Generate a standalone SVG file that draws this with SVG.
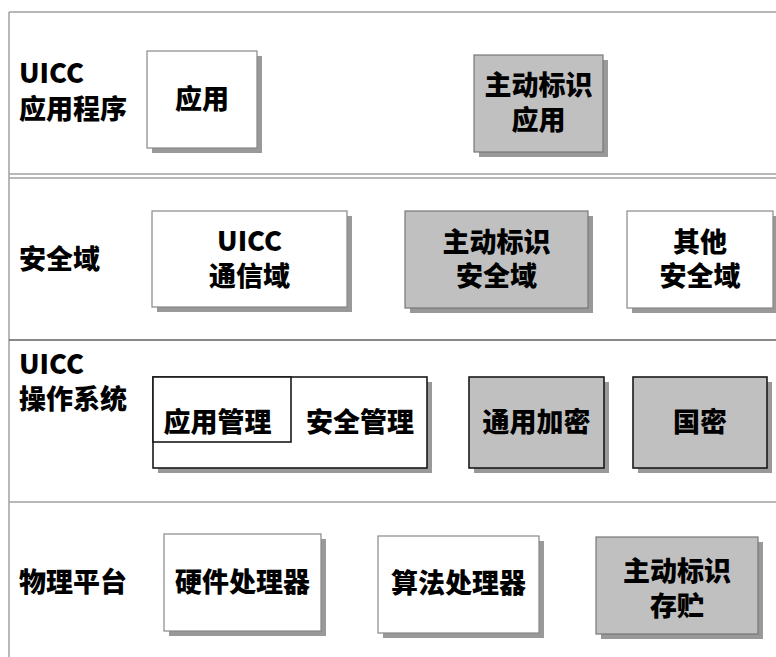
<svg xmlns="http://www.w3.org/2000/svg" width="776" height="657" viewBox="0 0 776 657">
<style>
text{font-family:"Noto Sans CJK SC","Liberation Sans",sans-serif;font-weight:900;font-size:27px;fill:#000;dominant-baseline:central}
.c{text-anchor:middle}
.sh{fill:#999}
.w{fill:#fff;stroke:#888;stroke-width:1.2}
.g{fill:#c0c0c0;stroke:#777;stroke-width:1.2}
.wd{fill:#fff;stroke:#1a1a1a;stroke-width:1.6}
.gd{fill:#c0c0c0;stroke:#1a1a1a;stroke-width:1.6}
.ln{stroke:#a0a0a0;stroke-width:1.5;fill:none}
</style>
<rect width="776" height="657" fill="#fff"/>
<g id="frame">
<line class="ln" x1="9" y1="12" x2="776" y2="12"/>
<line class="ln" x1="9" y1="12" x2="9" y2="657"/>
<line class="ln" x1="9" y1="174" x2="776" y2="174"/>
<line class="ln" x1="9" y1="178" x2="776" y2="178" stroke="#b4b4b4"/>
<line class="ln" x1="9" y1="340" x2="776" y2="340" style="stroke:#606060"/>
<line class="ln" x1="9" y1="502" x2="776" y2="502"/>
</g>
<g id="labels">
<text x="19" y="71">UICC</text>
<text x="19" y="107">应用程序</text>
<text x="19" y="257">安全域</text>
<text x="19" y="362">UICC</text>
<text x="19" y="397">操作系统</text>
<text x="19" y="580">物理平台</text>
</g>
<g id="n-app">
<rect class="sh" x="152" y="56" width="110" height="97"/>
<rect class="w" x="147" y="51" width="110" height="97"/>
<text class="c" x="202" y="97">应用</text>
</g>
<g id="n-aid-app">
<rect class="sh" x="479" y="60" width="129" height="97"/>
<rect class="g" x="474" y="55" width="129" height="97"/>
<text class="c" x="538.5" y="83">主动标识</text>
<text class="c" x="538.5" y="118">应用</text>
</g>
<g id="n-uicc-sd">
<rect class="sh" x="157" y="216" width="195" height="96"/>
<rect class="w" x="152" y="211" width="195" height="96"/>
<text class="c" x="249.5" y="239">UICC</text>
<text class="c" x="249.5" y="274">通信域</text>
</g>
<g id="n-aid-sd">
<rect class="sh" x="410" y="216" width="183" height="97"/>
<rect class="g" x="405" y="211" width="183" height="97"/>
<text class="c" x="496.5" y="240">主动标识</text>
<text class="c" x="496.5" y="274">安全域</text>
</g>
<g id="n-other-sd">
<rect class="sh" x="632" y="216" width="146" height="97"/>
<rect class="w" x="627" y="211" width="146" height="97"/>
<text class="c" x="700" y="240">其他</text>
<text class="c" x="700" y="274">安全域</text>
</g>
<g id="n-os">
<rect class="sh" x="158" y="382" width="274" height="91"/>
<rect class="wd" x="153" y="377" width="274" height="91"/>
<rect class="wd" x="153" y="377" width="138" height="65"/>
<text class="c" x="217.5" y="420">应用管理</text>
<text class="c" x="360" y="420">安全管理</text>
</g>
<g id="n-crypto">
<rect class="sh" x="474" y="382" width="135" height="91"/>
<rect class="gd" x="469" y="377" width="135" height="91"/>
<text class="c" x="536.5" y="420">通用加密</text>
</g>
<g id="n-gm">
<rect class="sh" x="638" y="382" width="134" height="91"/>
<rect class="gd" x="633" y="377" width="134" height="91"/>
<text class="c" x="700" y="420">国密</text>
</g>
<g id="n-hw">
<rect class="sh" x="169" y="539" width="157" height="97"/>
<rect class="w" x="164" y="534" width="157" height="97"/>
<text class="c" x="242.5" y="580">硬件处理器</text>
</g>
<g id="n-alg">
<rect class="sh" x="383" y="541" width="161" height="97"/>
<rect class="w" x="378" y="536" width="161" height="97"/>
<text class="c" x="458.5" y="581">算法处理器</text>
</g>
<g id="n-store">
<rect class="sh" x="601" y="542" width="162" height="97"/>
<rect class="g" x="596" y="537" width="162" height="97"/>
<text class="c" x="677" y="569">主动标识</text>
<text class="c" x="677" y="604">存贮</text>
</g>
<g id="connectors"></g>
</svg>
